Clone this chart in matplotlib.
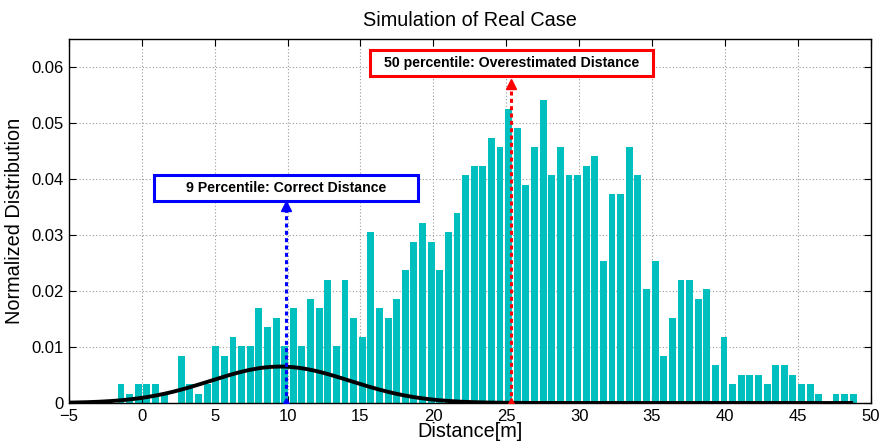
import numpy as np
import matplotlib
matplotlib.use("Agg")
import matplotlib.pyplot as plt
from matplotlib.patches import Rectangle
from matplotlib.transforms import IdentityTransform

plt.rcParams['font.family'] = ['Liberation Sans', 'DejaVu Sans']

# Histogram of simulated distances (counts per bin, 1000 samples)
n_samples = 1000
bin_first_center = -1.43
bin_last_center = 48.81
bin_counts = [
    2, 1, 2, 2, 2, 1, 0, 5, 2, 1,
    2, 6, 5, 7, 6, 6, 10, 8, 9, 6,
    10, 6, 11, 10, 13, 6, 13, 9, 7, 18,
    10, 9, 11, 14, 17, 19, 17, 14, 18, 20,
    24, 25, 25, 28, 27, 31, 29, 23, 27, 32,
    24, 27, 24, 24, 25, 26, 15, 22, 22, 27,
    24, 12, 15, 5, 9, 13, 13, 11, 12, 4,
    7, 2, 3, 3, 3, 2, 4, 4, 3, 2,
    2, 1, 0, 1, 1, 1,
]

# Reference (true) distance distribution
true_mean = 9.5
true_sigma = 4.8
true_peak = 0.0065
curve_range = (-5.0, 48.8)

# Percentile markers
p9_distance = 9.9
p9_label = "9 Percentile: Correct Distance"
p50_distance = 25.35
p50_label = "50 percentile: Overestimated Distance"

centers = np.linspace(bin_first_center, bin_last_center, len(bin_counts))
bin_width = centers[1] - centers[0]
density = np.asarray(bin_counts) / (n_samples * bin_width)

DPI = 100
fig = plt.figure(figsize=(8.8, 4.43), dpi=DPI)
ax = fig.add_axes([0.0784, 0.0903, 0.9109, 0.8223])

ax.bar(centers, density, width=0.8 * bin_width, color='#00BFBF',
       edgecolor='none', zorder=2)

xc = np.linspace(curve_range[0], curve_range[1], 600)
yc = true_peak * np.exp(-0.5 * ((xc - true_mean) / true_sigma) ** 2)
ax.plot(xc, yc, color='black', lw=2.8, zorder=3, solid_capstyle='butt')

ax.set_xlim(-5, 50)
ax.set_ylim(0, 0.065)


def percentile_marker(x, top, color, label, label_y, box_w_px, box_h_px):
    ax.plot([x, x], [0, top], linestyle=(0, (1.3, 1.1)), lw=2.2,
            color=color, marker='^', ms=7, markevery=[0, 1],
            markeredgecolor=color, zorder=4)
    # fixed-size label box centred on the marker line
    cx, cy = ax.transData.transform((x, label_y))
    box = Rectangle((cx - box_w_px / 2, cy - box_h_px / 2), box_w_px, box_h_px,
                    transform=IdentityTransform(), facecolor='white',
                    edgecolor=color, lw=2.2, zorder=5, clip_on=False)
    fig.add_artist(box)
    fig.text(cx / fig.bbox.width, cy / fig.bbox.height, label,
             ha='center', va='center', fontsize=10.2, fontweight='bold',
             zorder=6)


percentile_marker(p9_distance, 0.0352, '#0000FF', p9_label, 0.0384, 264, 26)
percentile_marker(p50_distance, 0.0570, '#FF0000', p50_label, 0.0606, 283, 26)

ax.set_xticks(np.arange(-5, 51, 5))
ax.set_yticks(np.arange(0, 0.061, 0.01))
ax.set_yticklabels(['0', '0.01', '0.02', '0.03', '0.04', '0.05', '0.06'])
ax.tick_params(direction='in', length=5, width=0.8, labelsize=12,
               top=True, right=True)
ax.tick_params(axis='y', pad=4)
ax.tick_params(axis='x', pad=4)
ax.grid(True, linestyle=(0, (1, 2)), color='#9a9a9a', lw=0.8, zorder=0)
ax.set_axisbelow(True)
for s in ax.spines.values():
    s.set_linewidth(1.0)

ax.set_title("Simulation of Real Case", fontsize=14.3, pad=9)
ax.set_xlabel("Distance[m]", fontsize=14.3, labelpad=-1)
ax.set_ylabel("Normalized Distribution", fontsize=14.3, labelpad=5)

fig.savefig("out.png", dpi=DPI)
